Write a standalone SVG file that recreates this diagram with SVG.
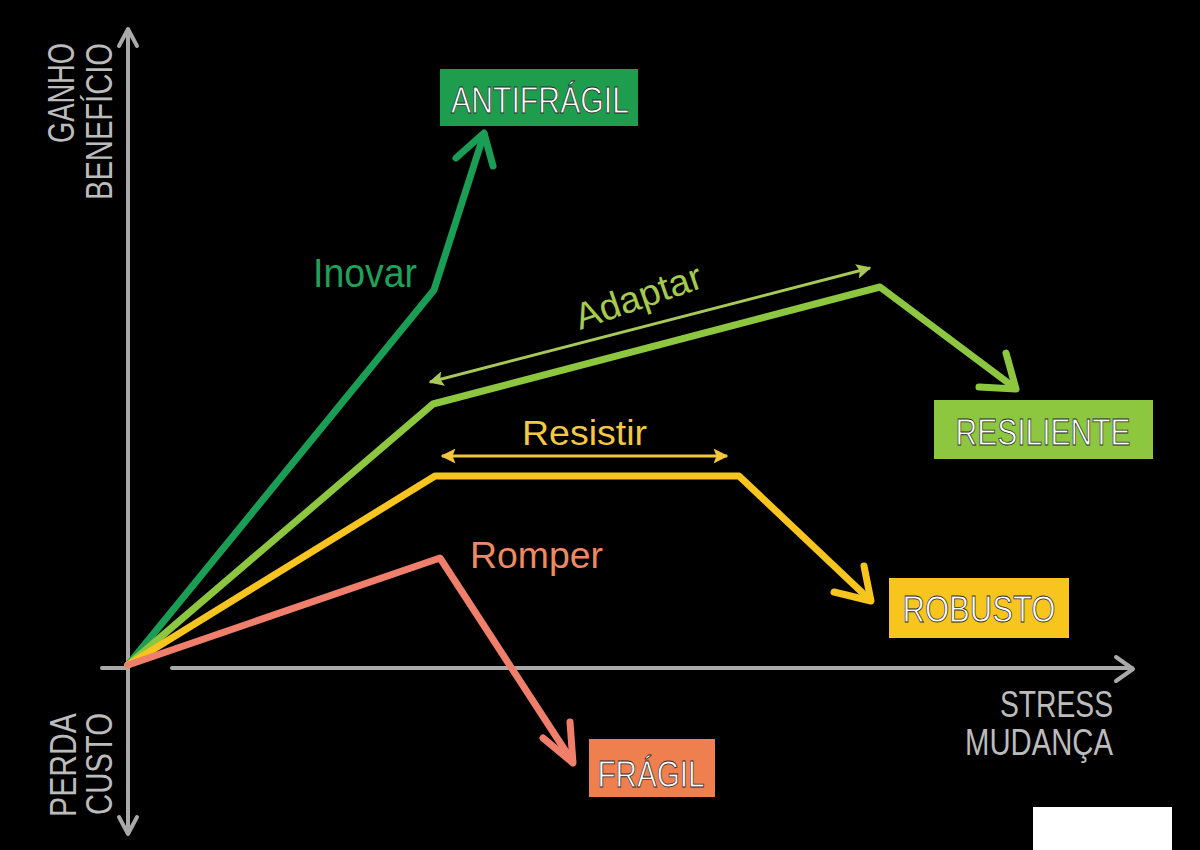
<svg xmlns="http://www.w3.org/2000/svg" width="1200" height="850" viewBox="0 0 1200 850">
<defs>
<style>
.axis{stroke:#a9a9a9;stroke-width:4;fill:none;stroke-linecap:round;stroke-linejoin:round}
.axlbl{font-family:"Liberation Sans",Arial,sans-serif;fill:#bcbcbc;font-size:37px}
.curve{fill:none;stroke-width:7;stroke-linecap:round;stroke-linejoin:round}
.lbl{font-family:"Liberation Sans",Arial,sans-serif}
.boxt{font-family:"Liberation Sans",Arial,sans-serif;fill:#ffffff;stroke:#2a2a2a;stroke-width:0.8;font-size:37px;text-anchor:middle}
</style>
<marker id="ahG" viewBox="0 0 10 10" refX="9" refY="5" markerWidth="5" markerHeight="5" orient="auto-start-reverse" markerUnits="strokeWidth">
<path d="M0,0 L10,5 L0,10 L2,5 z" fill="#a7c957"/>
</marker>
<marker id="ahY" viewBox="0 0 10 10" refX="9" refY="5" markerWidth="5" markerHeight="5" orient="auto-start-reverse" markerUnits="strokeWidth">
<path d="M0,0 L10,5 L0,10 L2,5 z" fill="#f4c63c"/>
</marker>
</defs>
<rect width="1200" height="850" fill="#000000"/>

<g id="axes">
<path class="axis" d="M128,832 L128,30"/>
<path class="axis" d="M119,46 L128,29 L137,46"/>
<path class="axis" d="M119,817 L128,834 L137,817"/>
<path class="axis" d="M102,668 L126,668"/>
<path class="axis" d="M172,668 L1132,668"/>
<path class="axis" d="M1116,657 L1133,669 L1116,681"/>
</g>

<g id="axis-labels">
<text class="axlbl" transform="translate(74,43) rotate(-90)" text-anchor="end" textLength="100" lengthAdjust="spacingAndGlyphs">GANHO</text>
<text class="axlbl" transform="translate(112,43) rotate(-90)" text-anchor="end" textLength="157" lengthAdjust="spacingAndGlyphs">BENEFÍCIO</text>
<text class="axlbl" transform="translate(76,713) rotate(-90)" text-anchor="end" textLength="104" lengthAdjust="spacingAndGlyphs">PERDA</text>
<text class="axlbl" transform="translate(112,713) rotate(-90)" text-anchor="end" textLength="102" lengthAdjust="spacingAndGlyphs">CUSTO</text>
<text class="axlbl" x="1113" y="717" text-anchor="end" textLength="113" lengthAdjust="spacingAndGlyphs">STRESS</text>
<text class="axlbl" x="1113" y="755" text-anchor="end" textLength="148" lengthAdjust="spacingAndGlyphs">MUDANÇA</text>
</g>

<g id="connectors">
<g id="curve-inovar">
<polyline class="curve" stroke="#1a9e55" points="128,665 434,290 484,134"/>
<polyline class="curve" stroke="#1a9e55" points="456,158 484,133 493,166"/>
</g>
<g id="curve-adaptar">
<polyline class="curve" stroke="#8dc63f" points="128,665 433,404 880,287 1015,388"/>
<polyline class="curve" stroke="#8dc63f" points="979,387 1016,389 1006,353"/>
<line x1="430" y1="382" x2="870" y2="268" stroke="#a7c957" stroke-width="3" marker-start="url(#ahG)" marker-end="url(#ahG)"/>
</g>
<g id="curve-resistir">
<polyline class="curve" stroke="#f7c51e" points="128,665 435,476 739,476 870,600"/>
<polyline class="curve" stroke="#f7c51e" points="834,592 871,601 864,566"/>
<line x1="442" y1="456" x2="727" y2="456" stroke="#f4c63c" stroke-width="3" marker-start="url(#ahY)" marker-end="url(#ahY)"/>
</g>
<g id="curve-romper">
<polyline class="curve" stroke="#ef7e6a" points="128,665 440,558 572,761"/>
<polyline class="curve" stroke="#ef7e6a" points="543,738 573,763 570,722"/>
</g>
</g>

<g id="label-inovar"><text class="lbl" x="313" y="287" font-size="40" fill="#1fa15a" textLength="104" lengthAdjust="spacingAndGlyphs">Inovar</text></g>
<g id="label-adaptar"><text class="lbl" transform="translate(580,330) rotate(-19)" font-size="37" fill="#a6cb4b" textLength="132" lengthAdjust="spacingAndGlyphs">Adaptar</text></g>
<g id="label-resistir"><text class="lbl" x="522" y="445" font-size="35" fill="#f5c842" textLength="125" lengthAdjust="spacingAndGlyphs">Resistir</text></g>
<g id="label-romper"><text class="lbl" x="470" y="568" font-size="36" fill="#ee8a60" textLength="133" lengthAdjust="spacingAndGlyphs">Romper</text></g>

<g id="node-antifragil">
<rect x="440" y="69" width="198" height="57" fill="#1e9d4e"/>
<text class="boxt" x="540" y="113" textLength="178" lengthAdjust="spacingAndGlyphs">ANTIFRÁGIL</text>
</g>
<g id="node-resiliente">
<rect x="934" y="400" width="219" height="59" fill="#8dc63f"/>
<text class="boxt" x="1043" y="445" textLength="175" lengthAdjust="spacingAndGlyphs">RESILIENTE</text>
</g>
<g id="node-robusto">
<rect x="889" y="578" width="180" height="60" fill="#f7c51e"/>
<text class="boxt" x="979" y="622" textLength="153" lengthAdjust="spacingAndGlyphs">ROBUSTO</text>
</g>
<g id="node-fragil">
<rect x="589" y="739" width="126" height="58" fill="#f07f4f"/>
<text class="boxt" x="651" y="787" textLength="107" lengthAdjust="spacingAndGlyphs">FRÁGIL</text>
</g>

<rect x="1033" y="807" width="139" height="43" fill="#ffffff"/>
</svg>
